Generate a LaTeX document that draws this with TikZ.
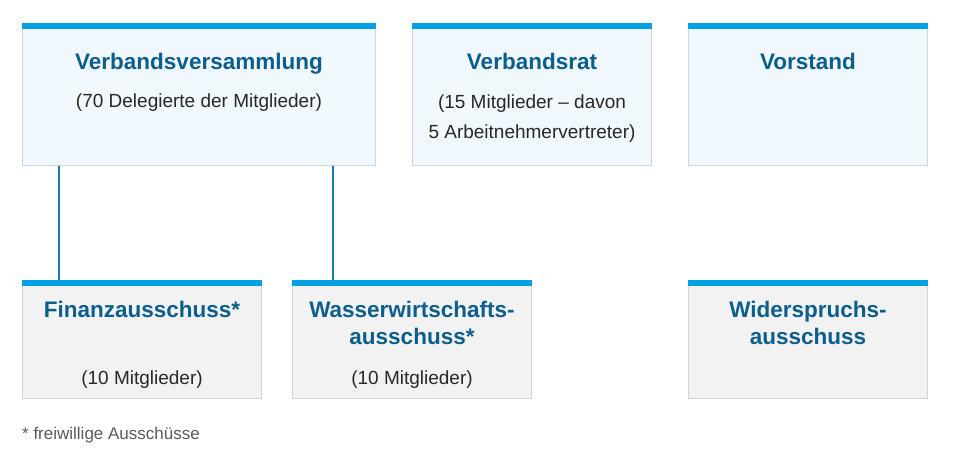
\documentclass[tikz,border=0pt]{standalone}
\usepackage{fontspec}
\setmainfont{Liberation Sans}
\usepackage{tikz}
\usetikzlibrary{positioning}
\usepackage{xcolor}
\definecolor{barblue}{RGB}{0, 160, 226}
\definecolor{titleblue}{RGB}{12, 94, 140}
\definecolor{linkblue}{RGB}{22, 120, 178}
\definecolor{boxline}{RGB}{208, 212, 216}
\definecolor{paleblue}{RGB}{240, 247, 253}
\definecolor{palegray}{RGB}{242, 242, 242}
\definecolor{bodytext}{RGB}{40, 40, 40}
\definecolor{notegray}{RGB}{90, 90, 90}

\tikzset{
    organ/.style={draw=boxline, line width=1pt, anchor=north west, inner sep=0pt},
    upper/.style={organ, fill=paleblue, minimum height=142pt},
    lower/.style={organ, fill=palegray, minimum height=118pt},
    title/.style={text=titleblue, font=\fontsize{22.5}{27}\selectfont\bfseries, align=center, inner sep=0pt, anchor=base},
    members/.style={text=bodytext, font=\fontsize{19}{29}\selectfont, align=center, inner sep=0pt, anchor=base},
    link/.style={draw=linkblue, line width=2pt}
}

\begin{document}
\begin{tikzpicture}[x=1pt, y=-1pt]
    \useasboundingbox (0,0) rectangle (960,468);

    % Organe
    \node[upper, minimum width=353pt] (vv) at (22,23) {};
    \node[upper, minimum width=239pt] (vr) at (412,23) {};
    \node[upper, minimum width=239pt] (vs) at (688,23) {};

    % Ausschuesse
    \node[lower, minimum width=239pt] (fa) at (22,280) {};
    \node[lower, minimum width=239pt] (wa) at (292,280) {};
    \node[lower, minimum width=239pt] (wi) at (688,280) {};

    \foreach \b in {vv, vr, vs, fa, wa, wi}
        \fill[barblue] (\b.north west) rectangle ([yshift=-6pt]\b.north east);

    \draw[link] ([xshift=37pt]fa.north west) -- ([xshift=37pt]fa.north west |- vv.south);
    \draw[link] ([xshift=41pt]wa.north west) -- ([xshift=41pt]wa.north west |- vv.south);

    % base = baseline of the last line
    \node[title] (vvtitle) at ([yshift=-47pt]vv.north) {Verbandsversammlung};
    \node[members] (vvtext) at ([yshift=-85pt]vv.north) {(70 Delegierte der Mitglieder)};

    \node[title] (vrtitle) at ([yshift=-47pt]vr.north) {Verbandsrat};
    \node[members] (vrtext) at ([yshift=-115pt]vr.north) {(15 Mitglieder – davon\\5 Arbeitnehmervertreter)};

    \node[title] (vstitle) at ([yshift=-47pt]vs.north) {Vorstand};

    \node[title] (fatitle) at ([yshift=-37pt]fa.north) {Finanzausschuss*};
    \node[members] (fatext) at ([yshift=-104pt]fa.north) {(10 Mitglieder)};

    \node[title] (watitle) at ([yshift=-64pt]wa.north) {Wasserwirtschafts-\\ausschuss*};
    \node[members] (watext) at ([yshift=-104pt]wa.north) {(10 Mitglieder)};

    \node[title] (wititle) at ([yshift=-64pt]wi.north) {Widerspruchs-\\ausschuss};

    \node[text=notegray, font=\fontsize{17}{20}\selectfont, inner sep=0pt, anchor=base west] (note) at ([yshift=-40pt]fa.south west) {* freiwillige Ausschüsse};
\end{tikzpicture}
\end{document}
